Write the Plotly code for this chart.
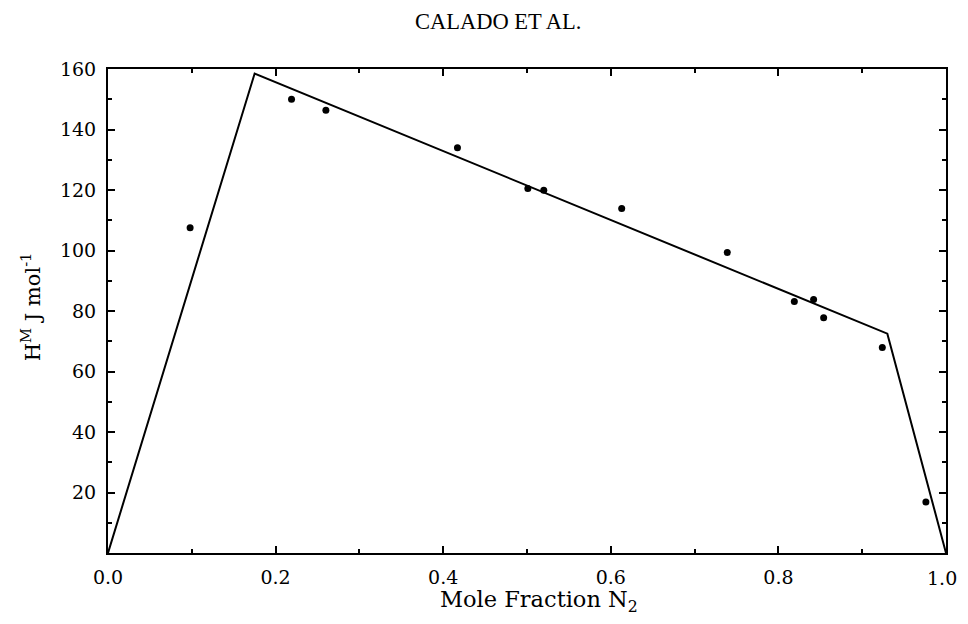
import plotly.graph_objects as go

# Experimental points
x_pts = [0.098, 0.219, 0.260, 0.417, 0.501, 0.520, 0.613, 0.739, 0.819, 0.842, 0.854, 0.924, 0.976]
y_pts = [107.5, 150.0, 146.4, 134.0, 120.5, 119.9, 113.9, 99.3, 83.1, 83.8, 77.8, 67.9, 16.9]

# Model line
x_line = [0.0, 0.175, 0.930, 1.0]
y_line = [0.0, 158.5, 72.5, 0.0]

x_ticks = [0.0, 0.2, 0.4, 0.6, 0.8, 1.0]
x_ticklabels = ["0.0", "0.2", "0.4", "0.6", "0.8", ""]
last_xlabel = "1.0"
y_ticks = [20, 40, 60, 80, 100, 120, 140, 160]

tick_font = "DejaVu Serif, serif"
title_font = "Liberation Serif, Times New Roman, serif"

fig = go.Figure()
fig.add_trace(go.Scatter(x=x_line, y=y_line, mode="lines",
                         line=dict(color="black", width=2), showlegend=False))
fig.add_trace(go.Scatter(x=x_pts, y=y_pts, mode="markers",
                         marker=dict(color="black", size=7), showlegend=False))

axis_common = dict(ticks="inside", ticklen=7, tickwidth=1.5, tickcolor="black",
                   showline=True, linecolor="black", linewidth=2, mirror="ticks",
                   showgrid=False, zeroline=False)

fig.update_layout(
    width=952, height=608,
    margin=dict(l=100, r=12, t=61, b=63),
    paper_bgcolor="white", plot_bgcolor="white",
    font=dict(family=tick_font, size=19, color="black"),
    xaxis=dict(range=[0, 1], tickvals=x_ticks, ticktext=x_ticklabels,
               minor=dict(dtick=0.1, ticks="inside", ticklen=4, tickcolor="black"),
               ticklabelstandoff=6, **axis_common),
    yaxis=dict(range=[0, 160], tickvals=y_ticks,
               minor=dict(dtick=10, ticks="inside", ticklen=4, tickcolor="black"),
               ticklabelstandoff=6, **axis_common),
    annotations=[
        dict(text="CALADO ET AL.", xref="paper", yref="paper", x=0.4655, y=1.099,
             xanchor="center", yanchor="middle", showarrow=False,
             font=dict(family=title_font, size=22.5, color="black")),
        dict(text="Mole Fraction N<sub>2</sub>", xref="paper", yref="paper", x=0.514, y=-0.099,
             xanchor="center", yanchor="middle", showarrow=False,
             font=dict(family=tick_font, size=22.5, color="black")),
        dict(text="H<sup>M</sup> J mol<sup>-1</sup>", xref="paper", yref="paper", x=-0.0917, y=0.508,
             xanchor="center", yanchor="middle", showarrow=False, textangle=-90,
             font=dict(family=tick_font, size=21, color="black")),
        dict(text=last_xlabel, xref="x", yref="paper", x=x_ticks[-1], y=0,
             xanchor="center", yanchor="middle", xshift=-4, yshift=-25, showarrow=False,
             font=dict(family=tick_font, size=19, color="black")),
    ],
)

fig.write_html("out.html", config={"displayModeBar": False})
